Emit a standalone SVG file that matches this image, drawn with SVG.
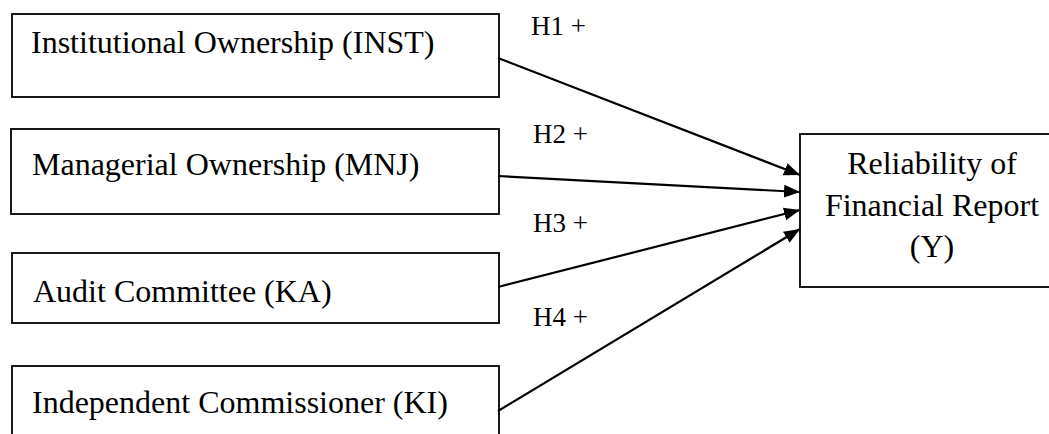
<svg xmlns="http://www.w3.org/2000/svg" width="1049" height="434" viewBox="0 0 1049 434">
<style>
.box{fill:#fff;stroke:#000;stroke-width:1.8}
.t{font-family:"Liberation Serif","Times New Roman",serif;font-size:32px;fill:#000}
.h{font-family:"Liberation Serif","Times New Roman",serif;font-size:27px;fill:#000}
.c{stroke:#000;stroke-width:2.2;fill:none;marker-end:url(#ah)}
</style>
<defs>
<marker id="ah" markerUnits="userSpaceOnUse" viewBox="0 0 16 13" markerWidth="16" markerHeight="13" refX="16" refY="6.5" orient="auto">
<path d="M0,0 L16,6.5 L0,13 z" fill="#000"/>
</marker>
</defs>
<rect width="1049" height="434" fill="#fff"/>
<g id="node-inst">
<rect class="box" x="12" y="14" width="487" height="83"/>
<text class="t" x="31" y="53">Institutional Ownership (INST)</text>
</g>
<g id="node-mnj">
<rect class="box" x="11" y="129" width="488" height="85"/>
<text class="t" x="32" y="175">Managerial Ownership (MNJ)</text>
</g>
<g id="node-ka">
<rect class="box" x="12" y="253" width="487" height="70"/>
<text class="t" x="33" y="302">Audit Committee (KA)</text>
</g>
<g id="node-ki">
<rect class="box" x="12" y="366" width="487" height="90"/>
<text class="t" x="32" y="413">Independent Commissioner (KI)</text>
</g>
<g id="node-y">
<rect class="box" x="800" y="134" width="270" height="153"/>
<text class="t" text-anchor="middle" x="932" y="174">Reliability of</text>
<text class="t" text-anchor="middle" x="932" y="216">Financial Report</text>
<text class="t" text-anchor="middle" x="932" y="257">(Y)</text>
</g>
<g id="connectors">
<line class="c" x1="498" y1="58" x2="800" y2="175"/>
<line class="c" x1="498" y1="176" x2="800" y2="192"/>
<line class="c" x1="498" y1="287" x2="800" y2="210"/>
<line class="c" x1="498" y1="411" x2="800" y2="229"/>
<text class="h" x="531" y="35">H1 +</text>
<text class="h" x="533" y="143">H2 +</text>
<text class="h" x="533" y="232">H3 +</text>
<text class="h" x="533" y="326">H4 +</text>
</g>
</svg>
